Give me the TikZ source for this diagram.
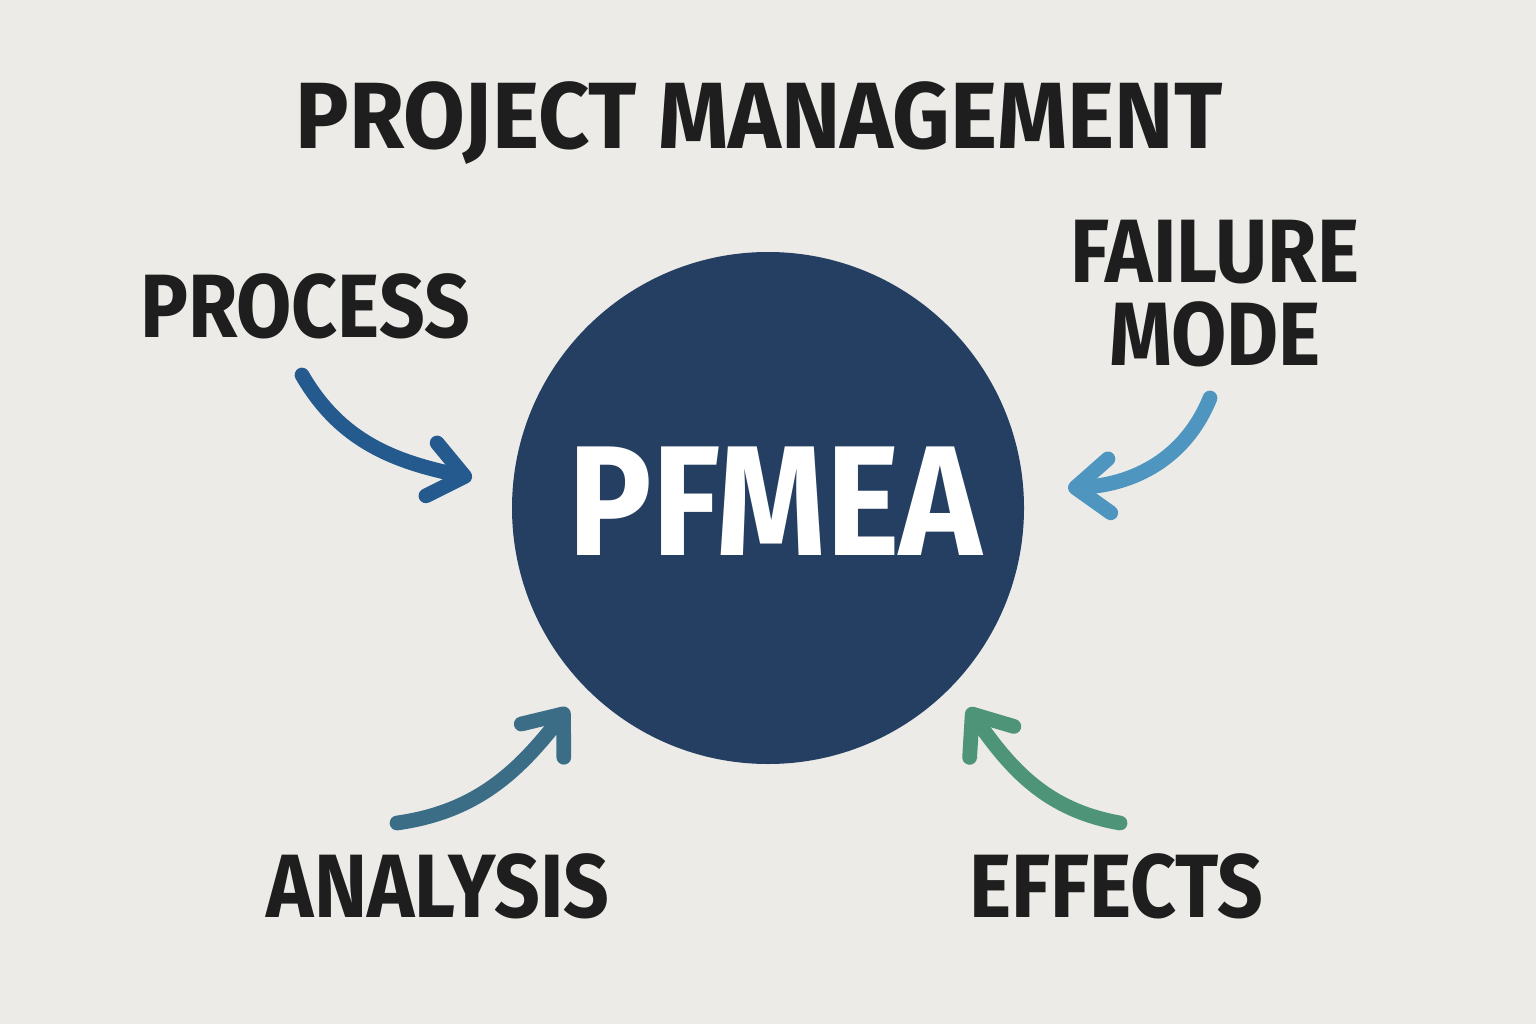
\documentclass[tikz,border=0pt]{standalone}
\usepackage{fontspec}
\setmainfont{Fira Sans}
\newfontfamily\labelfont{Fira Sans}[FakeStretch=0.89]
\newfontfamily\titlefont{Fira Sans}[FakeStretch=0.95]
\usetikzlibrary{arrows.meta}

\definecolor{paper}{HTML}{ECEBE8}
\definecolor{navy}{HTML}{253F62}
\definecolor{ink}{HTML}{1E1E1E}
\definecolor{procblue}{HTML}{245A8E}
\definecolor{failblue}{HTML}{4E95C0}
\definecolor{analteal}{HTML}{3B6E86}
\definecolor{effgreen}{HTML}{4E9479}

\begin{document}
\begin{tikzpicture}[
    word/.style={inner sep=0pt, text=ink, font=\labelfont\bfseries\fontsize{25.6}{23.6}\selectfont},
    curvearrow/.style={line width=4.2pt, line cap=round,
        -{Straight Barb[length=3.4mm, width=5.4mm, round]}}
]

\def\W{15.36}
\def\H{10.24}

\fill[paper] (0,0) rectangle (\W,\H);

\node[circle, fill=navy, minimum size=5.12cm, inner sep=0pt] (pfmea) at (7.68,5.16) {};
\node[inner sep=0pt, text=white, font=\labelfont\bfseries\fontsize{44.6}{44}\selectfont] (pfmeatext) at (7.75,5.23) {PFMEA};

\node[inner sep=0pt, text=ink, font=\titlefont\bfseries\fontsize{26.8}{26}\selectfont] (title) at (7.59,9.01) {PROJECT MANAGEMENT};

\node[word] (process) at (3.05,7.18) {PROCESS};
\node[word, align=center] (failure) at (12.15,7.30) {FAILURE\\MODE};
\node[word] (analysis) at (4.38,1.38) {ANALYSIS};
\node[word] (effects) at (11.16,1.38) {EFFECTS};

\coordinate (procTail) at (3.02,6.49);
\coordinate (procTip)  at (4.72,5.46);
\coordinate (failTail) at (12.10,6.26);
\coordinate (failTip)  at (10.68,5.36);
\coordinate (analTail) at (3.97,2.01);
\coordinate (analTip)  at (5.68,3.16);
\coordinate (effTail)  at (11.20,2.01);
\coordinate (effTip)   at (9.68,3.16);

\draw[curvearrow, procblue] (procTail) to[out=-60, in=168] (procTip);
\draw[curvearrow, failblue] (failTail) to[out=-112, in=3] (failTip);
\draw[curvearrow, analteal] (analTail) to[out=8, in=232] (analTip);
\draw[curvearrow, effgreen] (effTail) to[out=170, in=-55] (effTip);

\end{tikzpicture}
\end{document}
